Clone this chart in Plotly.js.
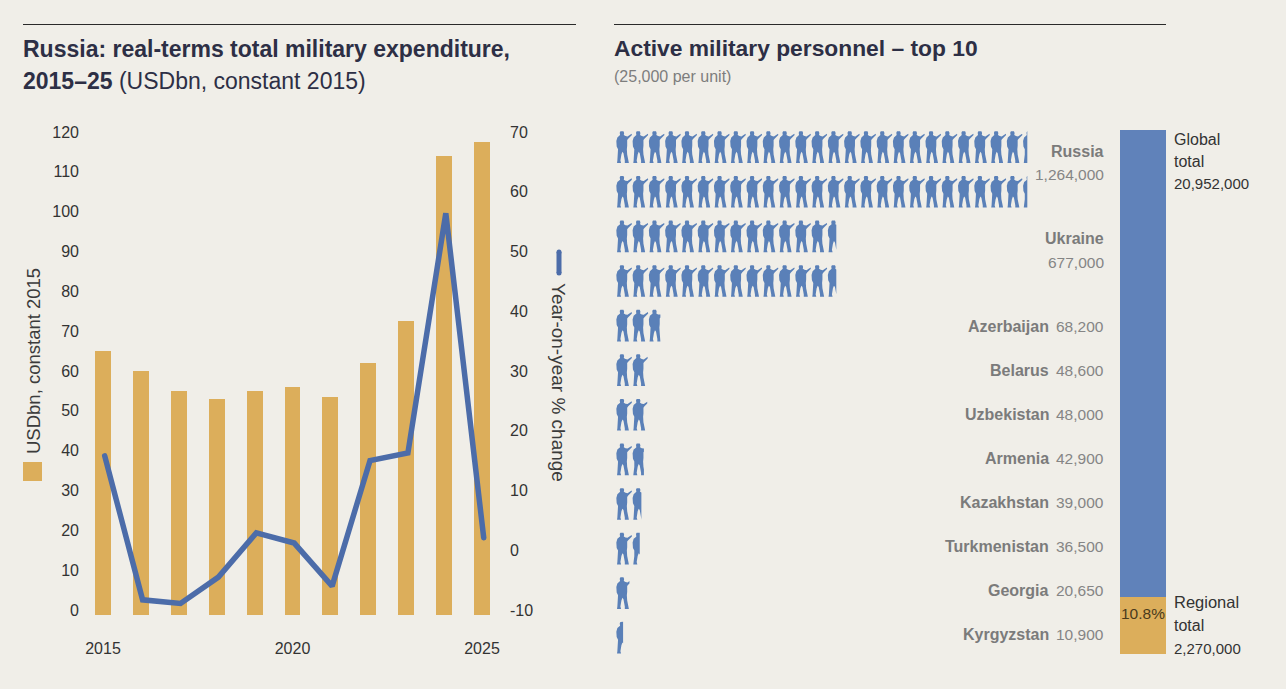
<!DOCTYPE html>
<html><head><meta charset="utf-8">
<script src="https://cdn.plot.ly/plotly-3.0.1.min.js"></script>
<style>html,body{margin:0;padding:0;background:#f0eee8}#c{width:1286px;height:689px}
.scatterlayer .js-line{stroke-linecap:round}</style>
</head><body><div id="c"></div>
<script>
const years=[2015,2016,2017,2018,2019,2020,2021,2022,2023,2024,2025];
const spending=[65,60,55,53,55,56,53.5,62,72.5,114,117.5];
const yoy=[15.8,-8.3,-8.9,-4.5,2.9,1.2,-6,15,16.3,56.4,2.1];
const leftTicks=[0,10,20,30,40,50,60,70,80,90,100,110,120];
const rightTicks=[-10,0,10,20,30,40,50,60,70];
const rightTickText=['-10','0','10','20','30','40','50','60','70'];
const yearTicks=[2015,2020,2025];
const countries=['Russia','Ukraine','Azerbaijan','Belarus','Uzbekistan','Armenia','Kazakhstan','Turkmenistan','Georgia','Kyrgyzstan'];
const personnel=[1264000,677000,68200,48600,48000,42900,39000,36500,20650,10900];
const personnelText=['1,264,000','677,000','68,200','48,600','48,000','42,900','39,000','36,500','20,650','10,900'];
const rowsUsed=[2,2,1,1,1,1,1,1,1,1];
const unitSize=25000;
const globalTotal=20952000, regionalTotal=2270000;

const W=1286,H=689,FONT='"Liberation Sans Narrow","Liberation Sans",sans-serif';
const BG='#f0eee8',NAVY='#2d2f45',ORANGE='#dcae5b',LINE='#4c6ca9',BLUE='#6082ba',ICON='#5a80b8';
const px=x=>x/W, py=y=>1-y/H;
const dom=(a,b)=>[px(a),px(b)], domY=(top,bot)=>[py(bot),py(top)];

// soldier silhouette, in icon-relative units (48 wide, 95 tall)
const soldier=[[13,1],[17,0],[22,1],[24,6],[23,12],[28,15],[34,16],[46,8],[47,12],[36,23],[33,27],[33,44],[32,54],[33,70],[36,88],[38,95],[26,95],[26,88],[22,66],[19,62],[16,70],[13,88],[15,95],[3,95],[4,88],[6,70],[6,54],[2,46],[1,30],[4,19],[9,15],[12,12],[11,5]]
  .map(p=>[p[0]/48,p[1]/95]);
function clipRight(poly,lim){
  const out=[];
  for(let i=0;i<poly.length;i++){
    const a=poly[i],b=poly[(i+1)%poly.length];
    const ai=a[0]<=lim,bi=b[0]<=lim;
    if(ai)out.push(a);
    if(ai!==bi){const t=(lim-a[0])/(b[0]-a[0]);out.push([lim,a[1]+t*(b[1]-a[1])]);}
  }
  return out;
}
const iconH=0.717;
function iconTrace(name,units,startRow,rows){
  const xs=[],ys=[];
  for(let r=0;r<rows;r++){
    for(let i=0;i<Math.ceil(units);i++){
      const frac=Math.min(1,units-i);
      const poly=frac<1?clipRight(soldier,frac):soldier;
      poly.forEach(p=>{xs.push(i+p[0]);ys.push(startRow+r+p[1]*iconH);});
      xs.push(xs[xs.length-poly.length]);ys.push(ys[ys.length-poly.length]);
      xs.push(null);ys.push(null);
    }
  }
  return {type:'scatter',mode:'lines',x:xs,y:ys,xaxis:'x2',yaxis:'y3',fill:'toself',fillcolor:ICON,
    line:{width:0,color:ICON},name:name,hoverinfo:'name',showlegend:false};
}

const barBase=-1.25;
const traces=[
 {type:'bar',x:years,y:spending.map(v=>v-barBase),base:barBase,width:0.42,marker:{color:ORANGE,line:{width:0}},name:'USDbn, constant 2015',showlegend:false,xaxis:'x',yaxis:'y'},
 {type:'scatter',mode:'lines',x:years,y:yoy,line:{color:LINE,width:5.5,join:'round'},name:'Year-on-year % change',showlegend:false,xaxis:'x4',yaxis:'y2'},
];
let row=0;
const annotations=[];
countries.forEach((c,i)=>{
  traces.push(iconTrace(c,personnel[i]/unitSize/rowsUsed[i],row,rowsUsed[i]));
  const y=150+44*row;
  if(rowsUsed[i]===2){
    annotations.push(txt(c,1104,y+1,16,'#7b7b7b','right',true));
    annotations.push(txt(personnelText[i],1104,y+24,15.5,'#858585','right'));
  }else{
    annotations.push(txt(c,1049,y,16,'#7b7b7b','right',true));
    annotations.push(txt(personnelText[i],1104,y,15.5,'#858585','right'));
  }
  row+=rowsUsed[i];
});
traces.push({type:'bar',x:['Total'],y:[regionalTotal],marker:{color:ORANGE,line:{width:0}},name:'Regional total',showlegend:false,xaxis:'x3',yaxis:'y4'});
traces.push({type:'bar',x:['Total'],y:[globalTotal-regionalTotal],marker:{color:BLUE,line:{width:0}},name:'Global total',showlegend:false,xaxis:'x3',yaxis:'y4'});

function txt(t,x,y,size,color,align,bold,angle){
  return {xref:'paper',yref:'paper',x:px(x),y:py(y),text:bold?'<b>'+t+'</b>':t,showarrow:false,
    xanchor:align||'left',yanchor:'middle',font:{family:FONT,size:size,color:color},textangle:angle||0,align:align||'left',borderpad:0,borderwidth:0};
}
annotations.push(
 txt('Russia: real-terms total military expenditure,',23,49,23,NAVY,'left',true),
 txt('<b>2015–25</b> (USDbn, constant 2015)',23,81,23,NAVY,'left'),
 txt('Active military personnel – top 10',614,48,22.8,NAVY,'left',true),
 txt('(25,000 per unit)',614,76,16,'#7d7d7d','left'),
 txt('USDbn, constant 2015',33,361,18.5,'#3b3b3b','center',false,-90),
 txt('Year-on-year % change',559,382,19,'#3b3b3b','center',false,90),
 txt('Global',1174,139,16,'#333','left'),txt('total',1174,161,16,'#333','left'),txt('20,952,000',1174,183,15,'#333','left'),
 txt('Regional',1174,602,16.5,'#333','left'),txt('total',1174,625,16,'#333','left'),txt('2,270,000',1174,648,15,'#333','left'),
 txt('10.8%',1143,613,15.5,'#4a3a1c','center')
);
const rect=(x0,x1,y0,y1,c)=>({type:'rect',xref:'paper',yref:'paper',x0:px(x0),x1:px(x1),y0:py(y1),y1:py(y0),fillcolor:c,line:{width:0},layer:'above'});
const rule=(x0,x1,y)=>({type:'line',xref:'paper',yref:'paper',x0:px(x0),x1:px(x1),y0:py(y),y1:py(y),line:{color:'#2a2a2a',width:1}});
const tickFont={family:FONT,size:16,color:'#333'};
const hidden={visible:false,fixedrange:true};
const xRange=[2015-0.607,2025+0.712];
const lineShift=1.7/37.9;
const layout={
 width:W,height:H,margin:{l:0,r:0,t:0,b:0},paper_bgcolor:BG,plot_bgcolor:'rgba(0,0,0,0)',barmode:'stack',showlegend:false,
 font:{family:FONT},
 xaxis:{domain:dom(80,509),range:xRange,tickvals:yearTicks,ticktext:yearTicks.map(String),tickfont:tickFont,showgrid:false,zeroline:false,showline:false,ticks:'outside',ticklen:19,tickcolor:'rgba(0,0,0,0)',anchor:'y'},
 xaxis4:Object.assign({domain:dom(80,509),range:[xRange[0]-lineShift,xRange[1]-lineShift],anchor:'y2',overlaying:'x'},hidden),
 yaxis:{domain:domY(125,615),range:[-1.255,121.76],tickvals:leftTicks,tickfont:tickFont,showgrid:false,zeroline:false,showline:false,ticks:'',anchor:'x',side:'left'},
 yaxis2:{domain:domY(125,615),range:[-10.84,71.17],tickvals:rightTicks,ticktext:rightTickText,tickfont:tickFont,showgrid:false,zeroline:false,showline:false,ticks:'',overlaying:'y',side:'right',anchor:'x'},
 xaxis2:Object.assign({domain:dom(616,1032),range:[0,416/16.27],anchor:'y3'},hidden),
 yaxis3:Object.assign({domain:domY(130,656),range:[525/44.6,-1/44.6],anchor:'x2'},hidden),
 xaxis3:Object.assign({domain:dom(1120,1166),anchor:'y4',type:'category',range:[-0.5,0.5]},hidden),
 yaxis4:Object.assign({domain:domY(130,654),range:[0,globalTotal],anchor:'x3'},hidden),
 bargap:0,
 shapes:[rule(23,576,24.5),rule(614,1166,24.5),rect(23,42,462,481,ORANGE),
  {type:'line',xref:'paper',yref:'paper',x0:px(559),x1:px(559),y0:py(252),y1:py(273),line:{color:LINE,width:5}},
  {type:'circle',xref:'paper',yref:'paper',x0:px(556.5),x1:px(561.5),y0:py(254.5),y1:py(249.5),fillcolor:LINE,line:{width:0}},
  {type:'circle',xref:'paper',yref:'paper',x0:px(556.5),x1:px(561.5),y0:py(275.5),y1:py(270.5),fillcolor:LINE,line:{width:0}}],
 annotations:annotations
};
Plotly.newPlot('c',traces,layout,{displayModeBar:false});
</script></body></html>
